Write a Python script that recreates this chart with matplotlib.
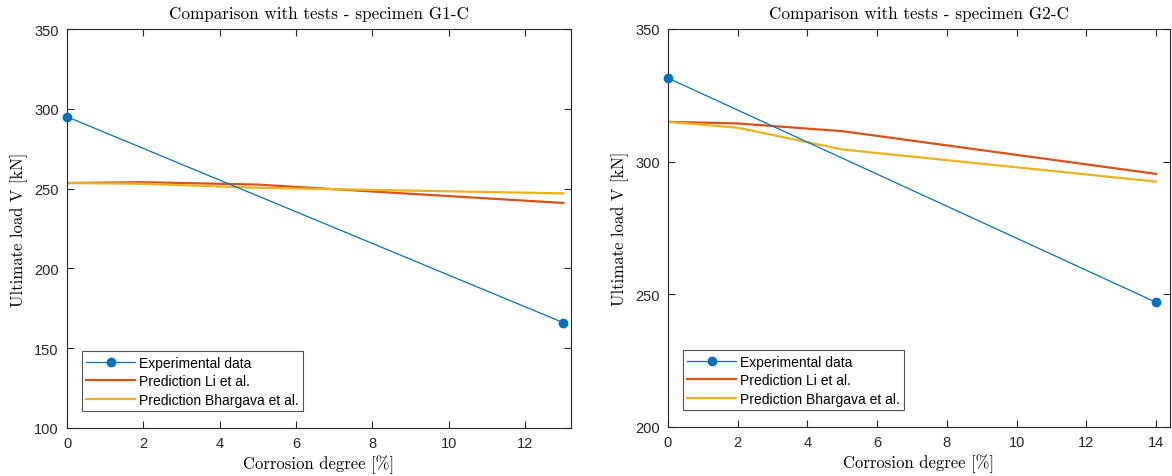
import matplotlib
matplotlib.use("Agg")
import matplotlib.pyplot as plt

# Corrosion degree [%] and ultimate loads [kN] per specimen
g1_exp_x = [0, 13]
g1_exp_y = [295, 166]
g1_pred_x = [0, 2, 5, 13]
g1_li = [253.5, 254, 252.5, 241]
g1_bhargava = [253.5, 253, 250.5, 247]

g2_exp_x = [0, 14]
g2_exp_y = [331.5, 247]
g2_pred_x = [0, 2, 5, 14]
g2_li = [315, 314.4, 311.5, 295.4]
g2_bhargava = [315, 312.8, 304.6, 292.5]

titles = ["Comparison with tests - specimen G1-C",
          "Comparison with tests - specimen G2-C"]
legend_labels = ["Experimental data", "Prediction Li et al.",
                 "Prediction Bhargava et al."]

C_BLUE = "#0072BD"
C_ORANGE = "#D95319"
C_YELLOW = "#EDB120"
AX_COLOR = "#262626"

plt.rcParams["font.family"] = ["Liberation Sans", "DejaVu Sans"]
plt.rcParams["axes.formatter.use_mathtext"] = False

fig = plt.figure(figsize=(11.72, 4.77), dpi=100)
ax1 = fig.add_axes([67 / 1172, 1 - 429 / 477, 504 / 1172, 399 / 477])
ax2 = fig.add_axes([668 / 1172, 1 - 428 / 477, 502 / 1172, 398 / 477])

serif = dict(family="cmr10")


def draw(ax, ex, ey, px, li, bh, title, xlim, ylim, yticks):
    ax.plot(ex, ey, color=C_BLUE, lw=0.9, marker="o", ms=6,
            markerfacecolor=C_BLUE, markeredgecolor=C_BLUE,
            label=legend_labels[0], clip_on=False, zorder=3)
    ax.plot(px, li, color=C_ORANGE, lw=1.6, label=legend_labels[1])
    ax.plot(px, bh, color=C_YELLOW, lw=1.6, label=legend_labels[2])
    ax.set_xlim(*xlim)
    ax.set_ylim(*ylim)
    ax.set_xticks(range(0, int(xlim[1]) + 1, 2))
    ax.set_yticks(yticks)
    ax.tick_params(direction="in", top=True, right=True, length=5,
                   width=0.8, colors=AX_COLOR, labelsize=10.5, pad=6)
    for s in ax.spines.values():
        s.set_color(AX_COLOR)
        s.set_linewidth(0.8)
    ax.set_title(title, fontsize=12.3, color="black", pad=8, **serif)
    ax.set_xlabel("Corrosion degree [%]", fontsize=12, labelpad=3, **serif)
    ax.set_ylabel("Ultimate load V [kN]", fontsize=12, labelpad=4, **serif)
    leg = ax.legend(loc="lower left", bbox_to_anchor=(0.03, 0.043),
                    fontsize=10, frameon=True, fancybox=False,
                    borderpad=0.3, labelspacing=0.33, handlelength=3.5,
                    handletextpad=0.3, borderaxespad=0)
    leg.get_frame().set_edgecolor(AX_COLOR)
    leg.get_frame().set_linewidth(0.8)


draw(ax1, g1_exp_x, g1_exp_y, g1_pred_x, g1_li, g1_bhargava, titles[0],
     (0, 13.2), (100, 350), range(100, 351, 50))
draw(ax2, g2_exp_x, g2_exp_y, g2_pred_x, g2_li, g2_bhargava, titles[1],
     (0, 14.4), (200, 350), range(200, 351, 50))

fig.savefig("out.png", dpi=100)
